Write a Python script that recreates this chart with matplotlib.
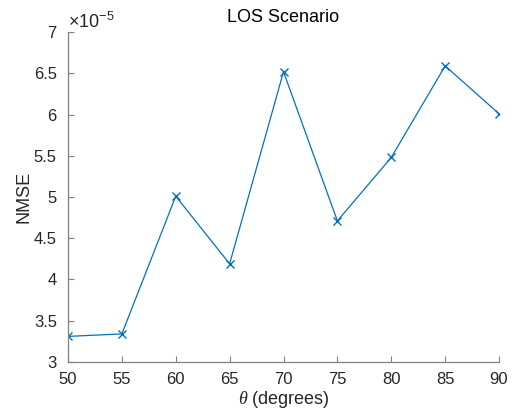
import numpy as np
import matplotlib
matplotlib.use('Agg')
import matplotlib.pyplot as plt
from matplotlib.ticker import ScalarFormatter

# data
theta = [50, 55, 60, 65, 70, 75, 80, 85, 90]
nmse = [3.31e-5, 3.34e-5, 5.01e-5, 4.19e-5, 6.52e-5, 4.71e-5, 5.48e-5, 6.59e-5, 6.01e-5]
x_ticks = [50, 55, 60, 65, 70, 75, 80, 85, 90]
y_ticks = [3e-5, 3.5e-5, 4e-5, 4.5e-5, 5e-5, 5.5e-5, 6e-5, 6.5e-5, 7e-5]


class ShortFormatter(ScalarFormatter):
    # matlab style: "6" instead of "6.0"
    def _set_format(self):
        self.format = '%g'


plt.rcParams['font.family'] = ['Liberation Sans', 'DejaVu Sans']
plt.rcParams['mathtext.fontset'] = 'custom'
plt.rcParams['mathtext.rm'] = 'Liberation Sans'
plt.rcParams['mathtext.it'] = 'Liberation Serif:italic'

fig = plt.figure(figsize=(5.15, 4.17), dpi=100)
ax = fig.add_axes([0.132, 0.132, 0.837, 0.791])

ax.plot(theta, nmse, color='#0072BD', lw=0.9, marker='x', ms=6, mew=1.0)

ax.set_xlim(50, 90)
ax.set_ylim(3e-5, 7e-5)
ax.set_xticks(x_ticks)
ax.set_yticks(y_ticks)

fmt = ShortFormatter(useMathText=True)
fmt.set_powerlimits((0, 0))
ax.yaxis.set_major_formatter(fmt)
ax.yaxis.get_offset_text().set_fontsize(13)
ax.yaxis.get_offset_text().set_color('#262626')

for side in ['top', 'right']:
    ax.spines[side].set_visible(False)
for side in ['left', 'bottom']:
    ax.spines[side].set_color('#808080')
    ax.spines[side].set_linewidth(0.9)

ax.tick_params(direction='in', length=4, width=0.8, color='#808080',
               labelcolor='#262626', labelsize=12)
ax.tick_params(axis='y', pad=8)
ax.tick_params(axis='x', pad=7)

ax.set_title('LOS Scenario', fontsize=13, color='black', pad=7)
ax.set_xlabel(r'$\mathit{\theta}$ (degrees)', fontsize=13, color='#262626', labelpad=2)
ax.set_ylabel('NMSE', fontsize=13, color='#262626', labelpad=1)

fig.savefig('out.png', dpi=100)
